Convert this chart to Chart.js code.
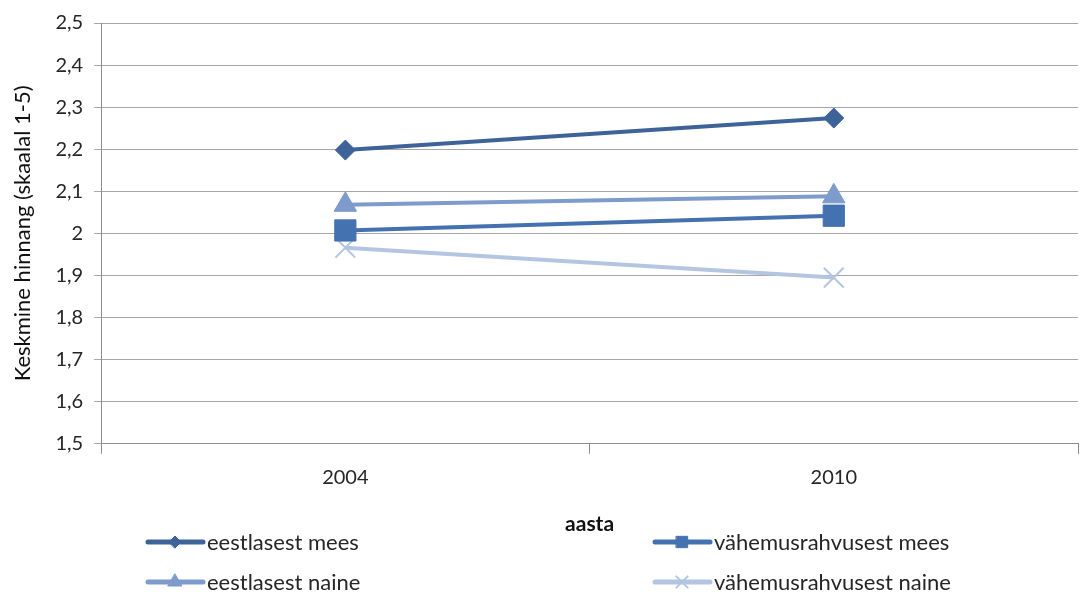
<!DOCTYPE html>
<html>
<head>
<meta charset="utf-8">
<script src="https://cdn.jsdelivr.net/npm/chart.js@4/dist/chart.umd.min.js"></script>
<style>
  html, body { margin: 0; padding: 0; background: #fff; }
  #wrap { width: 1081px; height: 596px; position: relative; }
</style>
</head>
<body>
<div id="wrap"><canvas id="hinnangChart" width="1081" height="596"></canvas></div>
<script>
var years = ['2004', '2010'];
var eestlasestMees = [2.198, 2.274];
var vahemusMees = [2.007, 2.042];
var eestlasestNaine = [2.068, 2.088];
var vahemusNaine = [1.966, 1.895];
var seriesNames = ['eestlasest mees', 'vähemusrahvusest mees', 'eestlasest naine', 'vähemusrahvusest naine'];

var colors = ['#3D6399', '#4472B0', '#7D9BCB', '#B4C5E1'];
var legendRadius = [6, 8, 8, 8];
var FONT = 'Lato, "Liberation Sans", sans-serif';

function fmt(v) {
    return String(Number(v.toFixed(1))).replace('.', ',');
}

// legend in two columns under the axis title, like the original
var legendPlugin = {
    id: 'twoColLegend',
    afterDraw: function (chart) {
        var ctx = chart.ctx;
        var spots = [[148, 542], [655, 542], [148, 582], [655, 582]];
        ctx.save();
        chart.data.datasets.forEach(function (ds, i) {
            var x = spots[i][0], y = spots[i][1];
            ctx.strokeStyle = ds.borderColor;
            ctx.lineWidth = 5;
            ctx.lineCap = 'round';
            ctx.beginPath();
            ctx.moveTo(x, y);
            ctx.lineTo(x + 55, y);
            ctx.stroke();
            ctx.fillStyle = ds.pointBackgroundColor;
            ctx.strokeStyle = ds.pointBorderColor;
            ctx.lineWidth = ds.pointBorderWidth;
            Chart.helpers.drawPoint(ctx, {
                pointStyle: ds.pointStyle,
                radius: legendRadius[i],
                borderWidth: ds.pointBorderWidth
            }, x + 27, y);
            ctx.fillStyle = '#262626';
            ctx.font = '22px ' + FONT;
            ctx.textBaseline = 'middle';
            ctx.textAlign = 'left';
            ctx.fillText(ds.label, x + 59, y + 1);
        });
        ctx.restore();
    }
};

function mkSet(label, data, color, style, radius, bw) {
    return {
        label: label,
        data: data,
        borderColor: color,
        backgroundColor: color,
        borderWidth: 4,
        pointStyle: style,
        pointRadius: radius,
        pointHoverRadius: radius,
        pointBackgroundColor: color,
        pointBorderColor: color,
        pointBorderWidth: bw,
        tension: 0
    };
}

var ctx1 = document.getElementById('hinnangChart').getContext('2d');
var hinnangChart = new Chart(ctx1, {
    type: 'line',
    data: {
        labels: years,
        datasets: [
            mkSet(seriesNames[0], eestlasestMees, colors[0], 'rectRot', 10, 1),
            mkSet(seriesNames[1], vahemusMees, colors[1], 'rect', 15, 1),
            mkSet(seriesNames[2], eestlasestNaine, colors[2], 'triangle', 13, 1),
            mkSet(seriesNames[3], vahemusNaine, colors[3], 'crossRot', 14, 2)
        ]
    },
    options: {
        responsive: false,
        animation: false,
        layout: { autoPadding: false, padding: { left: 6, right: 3, top: 19, bottom: 59 } },
        scales: {
            x: {
                offset: true,
                grid: { offset: true, drawOnChartArea: false, drawTicks: true, tickLength: 10, color: '#8C8C8C' },
                border: { color: '#8C8C8C' },
                ticks: { color: '#262626', font: { size: 20, family: FONT }, padding: 12 },
                title: { display: true, text: 'aasta', color: '#111', font: { size: 21, weight: 'bold', family: FONT }, padding: { top: 10, bottom: 0 } }
            },
            y: {
                min: 1.5,
                max: 2.5,
                ticks: { stepSize: 0.1, color: '#262626', font: { size: 20, family: FONT }, padding: 11, callback: function (v) { return fmt(v); } },
                grid: { color: '#A6A6A6', tickLength: 7 },
                border: { color: '#8C8C8C' },
                title: { display: true, text: 'Keskmine hinnang (skaalal 1-5)', color: '#111', font: { size: 22, family: FONT }, padding: { top: 4, bottom: 8 } }
            }
        },
        plugins: {
            legend: { display: false },
            tooltip: { enabled: false }
        }
    },
    plugins: [legendPlugin]
});
</script>
</body>
</html>
